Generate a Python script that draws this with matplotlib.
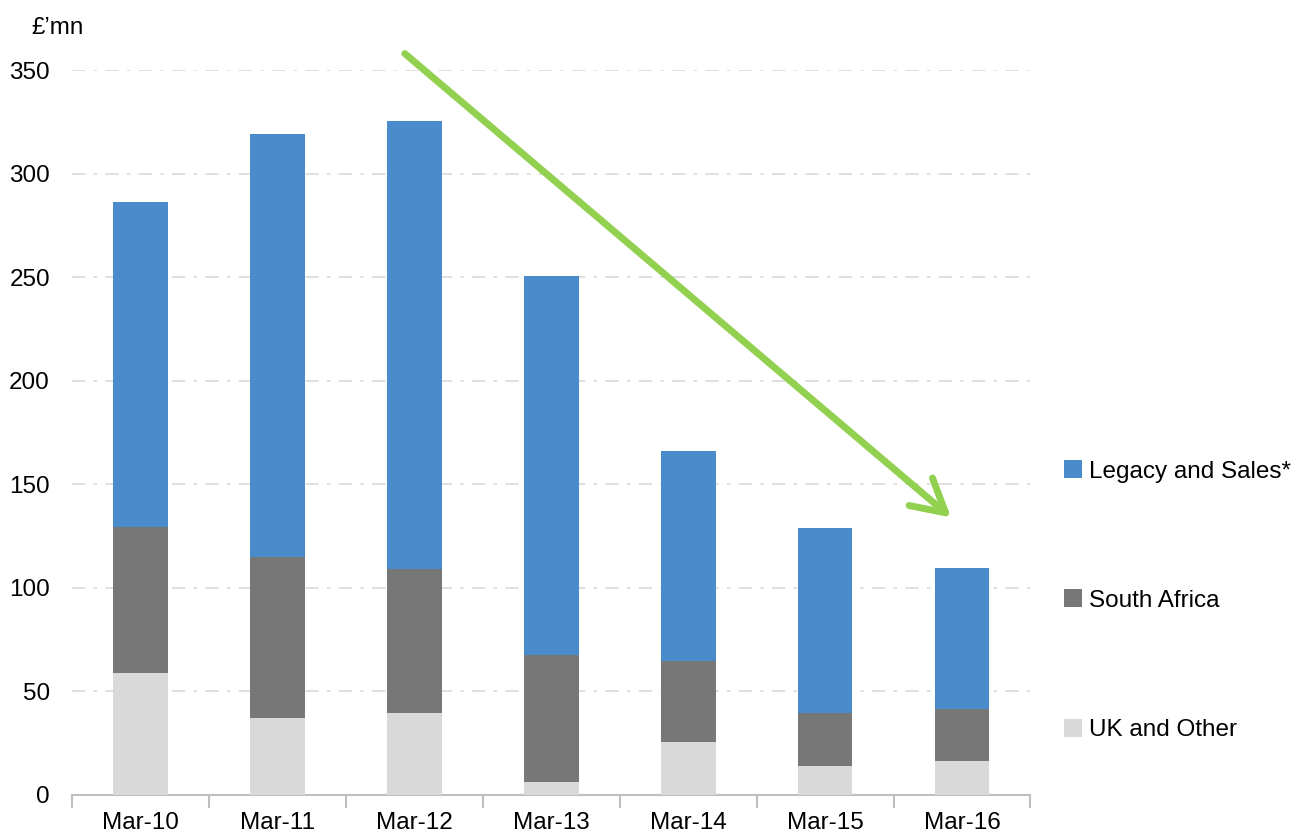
import numpy as np
import matplotlib.pyplot as plt

plt.rcParams['font.family'] = ['Liberation Sans', 'DejaVu Sans']

periods = ['Mar-10', 'Mar-11', 'Mar-12', 'Mar-13', 'Mar-14', 'Mar-15', 'Mar-16']
uk_other = [59, 37, 39.5, 6, 25.5, 14, 16.5]
south_africa = [70.5, 78, 69.5, 61.5, 39, 25.5, 25]
legacy_sales = [157, 204, 216.5, 183, 101.5, 89.5, 68]

c_legacy = '#4a8ccb'
c_sa = '#777777'
c_uk = '#d9d9d9'

fig = plt.figure(figsize=(13.11, 8.35), dpi=100)
ax = fig.add_axes([0.055, 0.048, 0.731, 0.868])

x = np.arange(len(periods))
w = 0.4
uk = np.array(uk_other)
sa = np.array(south_africa)
lg = np.array(legacy_sales)

b_uk = ax.bar(x, uk, w, color=c_uk, label='UK and Other', zorder=3)
b_sa = ax.bar(x, sa, w, bottom=uk, color=c_sa, label='South Africa', zorder=3)
b_lg = ax.bar(x, lg, w, bottom=uk + sa, color=c_legacy, label='Legacy and Sales*', zorder=3)

ax.set_xlim(-0.5, len(periods) - 0.5)
ax.set_ylim(0, 350)
ax.set_yticks(range(0, 351, 50))
ax.yaxis.grid(True, color='#d9d9d9', linestyle=(0, (8, 5, 2, 5)), linewidth=1.2)
ax.set_axisbelow(True)

ax.set_xticks(x)
ax.set_xticklabels(periods)
ax.set_xticks(np.arange(-0.5, len(periods)), minor=True)
ax.tick_params(axis='x', which='major', length=0, labelsize=17.5, pad=12)
ax.tick_params(axis='x', which='minor', length=9, color='#bfbfbf', width=1.5)
ax.tick_params(axis='y', length=0, labelsize=17.5, pad=16)

for s in ['top', 'right', 'left']:
    ax.spines[s].set_visible(False)
ax.spines['bottom'].set_color('#bfbfbf')
ax.spines['bottom'].set_linewidth(1.5)

fig.text(0.024, 0.967, '£’mn', fontsize=17.5, ha='left', va='center')

# trend arrow
ax.annotate('', xy=(5.92, 134), xytext=(1.93, 358),
            arrowprops=dict(arrowstyle='->,head_length=0.9,head_width=0.5',
                            mutation_scale=26, color='#92d050', lw=5,
                            shrinkA=0, shrinkB=0, capstyle='round',
                            joinstyle='round'),
            annotation_clip=False, zorder=5)

handles = [b_lg, b_sa, b_uk]
ax.legend(handles, [h.get_label() for h in handles], loc='center left',
          bbox_to_anchor=(1.012, 0.268), frameon=False, fontsize=17.5,
          handlelength=0.75, handleheight=0.75, handletextpad=0.3,
          labelspacing=4.4)

fig.savefig('out.png', dpi=100)
